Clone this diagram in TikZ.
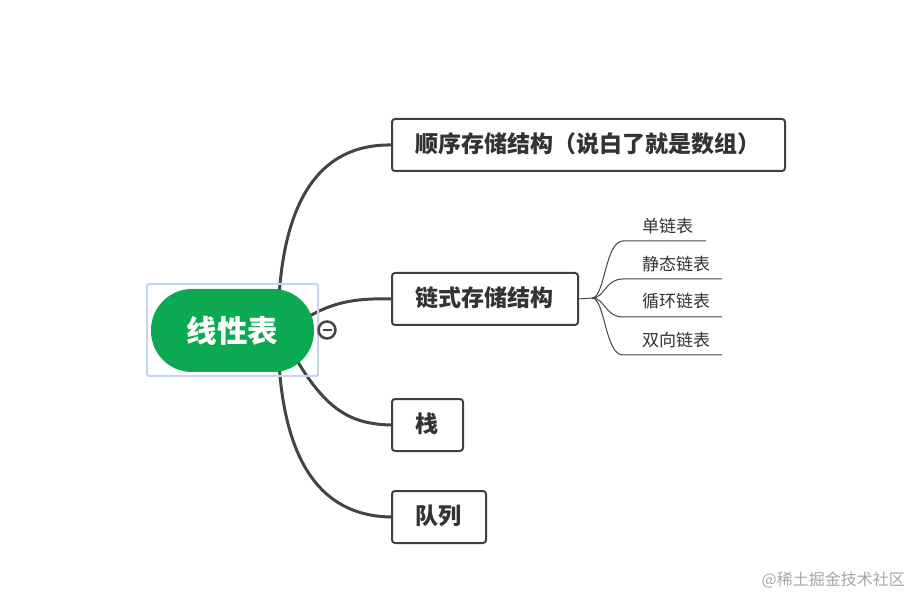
\documentclass[tikz,border=0pt]{standalone}
\usepackage{fontspec}
\setmainfont{Noto Sans CJK SC}
\usetikzlibrary{backgrounds}
\definecolor{linec}{HTML}{444444}
\definecolor{boxc}{HTML}{404040}
\definecolor{txtc}{HTML}{333333}
\definecolor{rootg}{HTML}{0BAA52}
\definecolor{selc}{HTML}{C4D5EC}
\begin{document}
\begin{tikzpicture}[x=1pt,y=-1pt,
  topicbox/.style={draw=boxc,line width=2pt,rounded corners=3pt,fill=white,inner sep=0pt,anchor=north west},
  topictext/.style={anchor=west,inner sep=0pt,text=txtc,font=\fontsize{23}{26}\selectfont\bfseries},
  conn/.style={draw=linec,line width=3pt},
  leafline/.style={draw=linec,line width=1pt},
  leaftext/.style={anchor=west,inner sep=0pt,text=txtc,font=\fontsize{17}{19}\selectfont}]
\useasboundingbox (0,0) rectangle (914,596);
% connectors
\coordinate (rc) at (278,330);
\coordinate (rc2) at (300,322);
\coordinate (rc3) at (292,352);
\node[topicbox,minimum width=393pt,minimum height=52pt] (b1) at (391,118) {};
\node[topictext] (t1) at (415,144) {顺序存储结构（说白了就是数组）};
\node[topicbox,minimum width=186pt,minimum height=52pt] (b2) at (391,272) {};
\node[topictext] (t2) at (415,298) {链式存储结构};
\node[topicbox,minimum width=71pt,minimum height=52pt] (b3) at (391,398) {};
\node[topictext] (t3) at (415,424) {栈};
\node[topicbox,minimum width=94pt,minimum height=52pt] (b4) at (391,490) {};
\node[topictext] (t4) at (415,516) {队列};
\begin{scope}[on background layer]
\draw[conn] (rc) .. controls (278,200) and (320,144) .. (b1.west);
\draw[conn] (rc) .. controls (278,460) and (320,516) .. (b4.west);
\draw[conn] (rc2) .. controls (330,302) and (355,298) .. (b2.west);
\draw[conn] (rc3) .. controls (325,410) and (350,424) .. (b3.west);
\end{scope}
% root
\draw[selc,line width=2pt,rounded corners=2pt] (147,284) rectangle (318,376);
\node[fill=rootg,rounded corners=41pt,minimum width=163pt,minimum height=83pt,inner sep=0pt,text=white,font=\fontsize{30.5}{34}\selectfont\bfseries] (root) at (232.5,330.5) {线性表};
\node[circle,draw=linec,line width=2.5pt,fill=white,minimum size=17pt,inner sep=0pt] (col) at (327,330) {};
\draw[linec,line width=2.5pt] ([xshift=-4.5pt]col.center) -- ([xshift=4.5pt]col.center);
% leaves
\coordinate (bp) at (592,298);
\draw[leafline] (b2.east) -- (bp);
\coordinate (l1a) at (623,241); \coordinate (l1b) at (706,241);
\coordinate (l2a) at (623,279); \coordinate (l2b) at (722,279);
\coordinate (l3a) at (623,317); \coordinate (l3b) at (722,317);
\coordinate (l4a) at (623,355); \coordinate (l4b) at (722,355);
\draw[leafline] (bp) .. controls (605,298) and (605,241) .. (l1a) -- (l1b);
\draw[leafline] (bp) .. controls (605,298) and (605,279) .. (l2a) -- (l2b);
\draw[leafline] (bp) .. controls (605,298) and (605,317) .. (l3a) -- (l3b);
\draw[leafline] (bp) .. controls (605,298) and (605,355) .. (l4a) -- (l4b);
\node[leaftext] (s1) at (642,226) {单链表};
\node[leaftext] (s2) at (642,264) {静态链表};
\node[leaftext] (s3) at (642,301) {循环链表};
\node[leaftext] (s4) at (642,340) {双向链表};
% watermark
\node[anchor=east,inner sep=0pt,text=black!35,font=\fontsize{16}{18}\selectfont] (wm) at (905,580) {@稀土掘金技术社区};
\end{tikzpicture}
\end{document}
